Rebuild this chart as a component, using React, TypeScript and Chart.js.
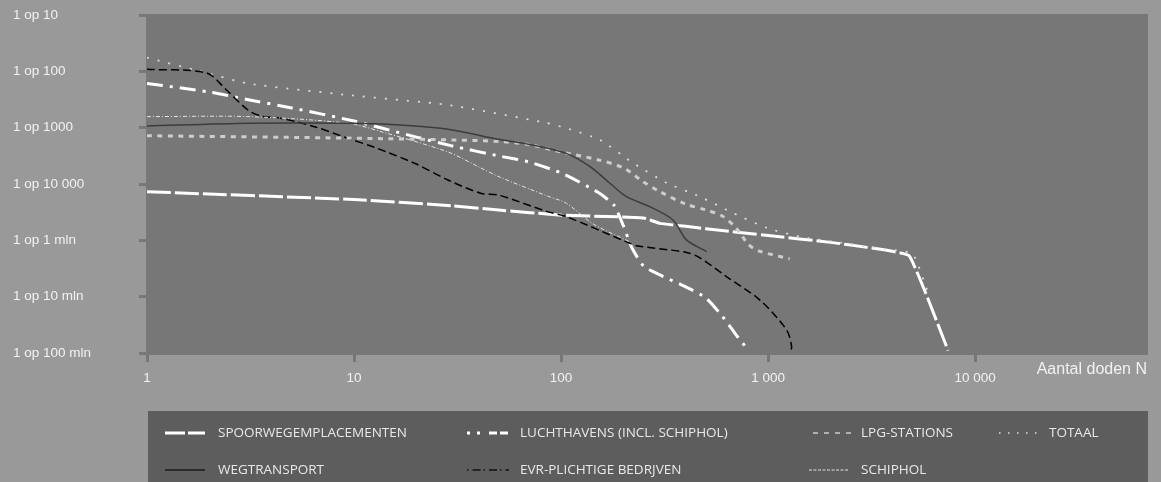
import React, { useEffect, useRef } from "react";
import { Chart, registerables } from "chart.js";

Chart.register(...registerables);

// ---- axis ticks ----
const xTickValues = [1, 10, 100, 1000, 10000];
const xTickLabels = ["1", "10", "100", "1 000", "10 000"];
const yTickValues = [1e-7, 1e-6, 1e-5, 1e-4, 1e-3, 1e-2, 1e-1];
const yTickLabels = ["1 op 100 mln", "1 op 10 mln", "1 op 1 mln", "1 op 10 000", "1 op 1000", "1 op 100", "1 op 10"];
const xAxisTitle = "Aantal doden N";

// ---- series names ----
const seriesNames = [
  "SPOORWEGEMPLACEMENTEN",
  "LUCHTHAVENS (INCL. SCHIPHOL)",
  "LPG-STATIONS",
  "TOTAAL",
  "WEGTRANSPORT",
  "EVR-PLICHTIGE BEDRJVEN",
  "SCHIPHOL",
];

// ---- series values: N (deaths) and yearly probability ----
const spoorN = [1, 10, 30, 50, 100, 200, 250, 300, 400, 500, 1000, 2000, 3000, 4800, 7400];
const spoorP = [7.3e-5, 5.3e-5, 4.1e-5, 3.45e-5, 2.8e-5, 2.6e-5, 2.5e-5, 2.0e-5, 1.77e-5, 1.6e-5, 1.22e-5, 9.2e-6, 7.5e-6, 5.3e-6, 1.1e-7];

const luchtN = [1, 2, 3, 5, 10, 20, 30, 50, 70, 100, 150, 180, 200, 220, 250, 300, 400, 500, 600, 700, 800];
const luchtP = [6.1e-3, 4.3e-3, 3.2e-3, 2.24e-3, 1.31e-3, 6.8e-4, 4.7e-4, 3.15e-4, 2.46e-4, 1.57e-4, 7.2e-5, 4.2e-5, 1.8e-5, 7.3e-6, 3.5e-6, 2.43e-6, 1.49e-6, 9.5e-7, 4.5e-7, 2.1e-7, 1.13e-7];

const lpgN = [1, 10, 30, 50, 70, 100, 150, 200, 250, 300, 400, 500, 600, 700, 800, 900, 1270];
const lpgP = [7.2e-4, 6.5e-4, 6.05e-4, 5.7e-4, 5.0e-4, 3.7e-4, 2.7e-4, 1.93e-4, 1.09e-4, 7.3e-5, 4.4e-5, 3.47e-5, 2.7e-5, 1.66e-5, 8.6e-6, 6.5e-6, 4.7e-6];

const totaalN = [1, 1.8, 3.07, 9.3, 28.4, 83.4, 106, 154, 222, 324, 468, 676, 986, 1422, 2054, 3000, 4188, 5000, 5906];
const totaalP = [1.75e-2, 1.01e-2, 6.1e-3, 3.8e-3, 2.53e-3, 1.23e-3, 9.8e-4, 6.05e-4, 2.37e-4, 1.04e-4, 5.96e-5, 3.06e-5, 1.66e-5, 1.16e-5, 9.5e-6, 7.7e-6, 6.6e-6, 5.7e-6, 1.21e-6];

const wegN = [1, 3.1, 9.3, 16.6, 28, 50, 73, 106, 138, 172, 207, 268, 347, 403, 504];
const wegP = [1.07e-3, 1.2e-3, 1.2e-3, 1.12e-3, 9.5e-4, 6.2e-4, 4.9e-4, 3.5e-4, 2.03e-4, 1.03e-4, 5.95e-5, 3.96e-5, 2.3e-5, 1.02e-5, 6.3e-6];

const evrN = [1, 1.94, 2.42, 3.07, 3.54, 4.42, 6.44, 9.3, 12.5, 19.6, 28.4, 40.9, 49.5, 86, 106, 207, 231, 403, 468, 629, 912, 1227, 1298, 1273];
const evrP = [1.09e-2, 9.35e-3, 4.67e-3, 2.06e-3, 1.61e-3, 1.47e-3, 1.04e-3, 6.5e-4, 4.5e-4, 2.33e-4, 1.18e-4, 6.85e-5, 6.4e-5, 3.23e-5, 2.63e-5, 9.4e-6, 8.05e-6, 6.1e-6, 4.9e-6, 2.27e-6, 8.7e-7, 2.57e-7, 1.3e-7, 1.0e-7];

const schipholN = [1, 3.07, 9.3, 13.5, 28.4, 40.9, 50.5, 86, 106, 143, 215];
const schipholP = [1.57e-3, 1.57e-3, 1.2e-3, 8.5e-4, 3.7e-4, 1.93e-4, 1.33e-4, 6.1e-5, 4.55e-5, 1.95e-5, 9.4e-6];

const toPoints = (n: number[], p: number[]) => n.map((v, i) => ({ x: v, y: p[i] }));

const OUTER_BG = "#999999";
const PLOT_BG = "#777777";
const LEGEND_BG = "#5d5d5d";
const TEXT = "#f2f2f2";
const TICK_FONT = { family: "'Liberation Sans', Arial, sans-serif", size: 13.5 };

// legend sample styles [color, width, dash]
const legendStyles: any[] = [
  ["#ffffff", 3, [20, 3]],
  ["#ffffff", 3, [3, 7, 3, 9, 8, 3, 8]],
  ["#cccccc", 1.5, [5, 6]],
  ["#dddddd", 1.5, [1.5, 7.5]],
  ["#2a2a2a", 2, []],
  ["#111111", 1.5, [1.5, 4, 8, 3]],
  ["#e0e0e0", 1, [3, 1.5]],
];
// legend grid: [sampleX0, sampleX1, textX, rowY]
const legendSlots = [
  [165, 205, 218, 433],
  [467, 509, 520, 433],
  [813, 853, 861, 433],
  [999, 1037, 1049, 433],
  [165, 205, 218, 470],
  [467, 509, 520, 470],
  [809, 848, 861, 470],
];

const decorPlugin = {
  id: "decor",
  beforeDraw(chart: any) {
    const { ctx, chartArea } = chart;
    ctx.save();
    ctx.fillStyle = OUTER_BG;
    ctx.fillRect(0, 0, chart.width, chart.height);
    ctx.fillStyle = PLOT_BG;
    ctx.fillRect(chartArea.left - 1, chartArea.top - 1, chartArea.right - chartArea.left + 1, chartArea.bottom - chartArea.top + 3);
    ctx.restore();
  },
  afterDraw(chart: any) {
    const { ctx, chartArea } = chart;
    ctx.save();
    // axis title
    ctx.fillStyle = TEXT;
    ctx.font = "16px 'Liberation Sans', Arial, sans-serif";
    ctx.textAlign = "right";
    ctx.textBaseline = "middle";
    ctx.fillText(xAxisTitle, chartArea.right - 1, 370);
    // legend box
    ctx.fillStyle = LEGEND_BG;
    ctx.fillRect(chartArea.left + 1, 411, chartArea.right - chartArea.left - 1, chart.height - 411);
    ctx.font = "13.5px 'Open Sans', 'Noto Sans', sans-serif";
    ctx.textAlign = "left";
    seriesNames.forEach((name, i) => {
      const [x0, x1, tx, y] = legendSlots[i];
      const [color, w, dash] = legendStyles[i];
      ctx.beginPath();
      ctx.strokeStyle = color;
      ctx.lineWidth = w;
      ctx.setLineDash(dash);
      ctx.lineCap = "butt";
      ctx.moveTo(x0, y);
      ctx.lineTo(x1, y);
      ctx.stroke();
      ctx.setLineDash([]);
      ctx.fillStyle = "#e8e8e8";
      ctx.fillText(name, tx, y);
    });
    ctx.restore();
  },
};

export default function App() {
  const canvasRef = useRef<HTMLCanvasElement | null>(null);

  useEffect(() => {
    document.body.style.margin = "0";
    const canvas = canvasRef.current;
    if (!canvas) return;
    const common = { pointRadius: 0, fill: false, borderCapStyle: "butt" as const };
    const chart = new Chart(canvas, {
      type: "line",
      data: {
        datasets: [
          { label: seriesNames[4], data: toPoints(wegN, wegP), borderColor: "#3c3c3c", borderWidth: 1.5, tension: 0.3, ...common },
          { label: seriesNames[6], data: toPoints(schipholN, schipholP), borderColor: "#e4e4e4", borderWidth: 1, borderDash: [4, 2, 1, 2], tension: 0.3, ...common },
          { label: seriesNames[2], data: toPoints(lpgN, lpgP), borderColor: "#cdcdcd", borderWidth: 3, borderDash: [5, 5.5], tension: 0.3, ...common },
          { label: seriesNames[5], data: toPoints(evrN, evrP), borderColor: "#000000", borderWidth: 1.5, borderDash: [8, 4], tension: 0.3, ...common },
          { label: seriesNames[3], data: toPoints(totaalN, totaalP), borderColor: "#dcdcdc", borderWidth: 1.8, borderDash: [2, 9], tension: 0.2, ...common },
          { label: seriesNames[1], data: toPoints(luchtN, luchtP), borderColor: "#ffffff", borderWidth: 3, borderDash: [16, 7, 3, 7], tension: 0.2, ...common },
          { label: seriesNames[0], data: toPoints(spoorN, spoorP), borderColor: "#ffffff", borderWidth: 3, borderDash: [24, 4], tension: 0.1, ...common },
        ],
      },
      options: {
        responsive: false,
        animation: false,
        layout: { padding: { left: 13, top: 15, right: 13, bottom: 89 } },
        plugins: { legend: { display: false }, tooltip: { enabled: false } },
        scales: {
          x: {
            type: "logarithmic",
            min: 1,
            max: 68300,
            afterBuildTicks: (s: any) => {
              s.ticks = xTickValues.map((v) => ({ value: v }));
            },
            afterFit: (s: any) => {
              s.height = 40;
            },
            ticks: {
              callback: (_v: any, i: number) => xTickLabels[i],
              color: TEXT,
              font: TICK_FONT,
              padding: 8,
              maxRotation: 0,
              autoSkip: false,
            },
            grid: { drawOnChartArea: false, drawTicks: true, tickLength: 9, tickWidth: 3, tickColor: PLOT_BG },
            border: { display: false },
          },
          y: {
            type: "logarithmic",
            min: 1e-7,
            max: 1e-1,
            afterBuildTicks: (s: any) => {
              s.ticks = yTickValues.map((v) => ({ value: v }));
            },
            afterFit: (s: any) => {
              s.width = 134;
            },
            ticks: {
              callback: (_v: any, i: number) => yTickLabels[i],
              color: TEXT,
              font: TICK_FONT,
              crossAlign: "far",
              autoSkip: false,
            },
            grid: { drawOnChartArea: false, drawTicks: true, tickLength: 8, tickWidth: 3, tickColor: PLOT_BG },
            border: { display: false },
          },
        },
      } as any,
      plugins: [decorPlugin],
    });
    return () => chart.destroy();
  }, []);

  return (
    <div style={{ position: "absolute", left: 0, top: 0, width: 1161, height: 482 }}>
      <canvas ref={canvasRef} width={1161} height={482} style={{ width: 1161, height: 482, display: "block" }} />
    </div>
  );
}
